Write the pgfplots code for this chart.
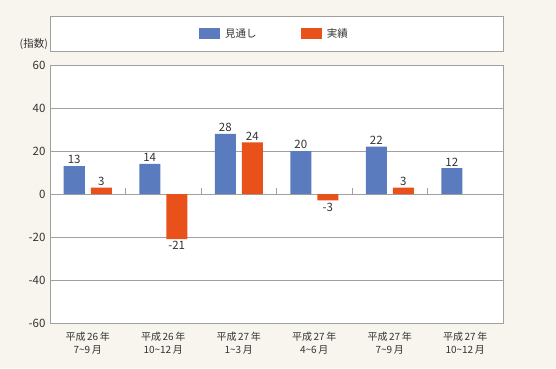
\documentclass[border=0pt]{standalone}
\usepackage{pgfplots}
\pgfplotsset{compat=1.18}
\usepackage{fontspec}
\setmainfont{Noto Sans CJK JP}
\definecolor{bg}{HTML}{F7F5EE}
\definecolor{blueb}{HTML}{5B7BBF}
\definecolor{orangeb}{HTML}{E8521A}
\definecolor{gridc}{HTML}{A0A0A0}
\definecolor{txt}{HTML}{333333}
\begin{document}
\begin{tikzpicture}[x=1pt,y=1pt]
\fill[bg] (0,0) rectangle (556,368);
\fill[white,draw=gridc,line width=0.8pt] (50,317) rectangle (503,352);
\node[anchor=east,font=\fontsize{10.5}{12}\selectfont,text=txt,inner sep=0pt] at (48,324) {(指数)};
\begin{axis}[
  at={(50pt,45pt)}, anchor=south west,
  scale only axis, width=453pt, height=258pt,
  xmin=-0.5, xmax=5.5, ymin=-60, ymax=60,
  ytick={-60,-40,...,60},
  yticklabels={-60,-40,-20,0,20,40,60},
  yticklabel style={font=\fontsize{11.5}{13}\selectfont,text=txt,xshift=-1pt},
  xtick={0,...,5},
  xticklabels={{平成\,26\,年\\7\textasciitilde9\,月},{平成\,26\,年\\10\textasciitilde12\,月},{平成\,27\,年\\1\textasciitilde3\,月},{平成\,27\,年\\4\textasciitilde6\,月},{平成\,27\,年\\7\textasciitilde9\,月},{平成\,27\,年\\10\textasciitilde12\,月}},
  xticklabel style={align=center,font=\fontsize{10}{12.5}\selectfont,text=txt,yshift=-6pt},
  major tick length=0pt,
  ymajorgrids, grid style={gridc, line width=0.8pt},
  axis line style={gridc, line width=0.8pt},
  axis background/.style={fill=white},
  ybar=6pt, bar width=21pt,
  nodes near coords={\pgfmathprintnumber[assume math mode=true]{\pgfplotspointmeta}},
  every node near coord/.append style={font=\fontsize{11.5}{13}\selectfont,text=txt,inner sep=2pt},
  legend style={draw=none, fill=none, at={(0.5,1)}, anchor=center, yshift=31.5pt, xshift=-2pt,
    legend columns=2, font=\fontsize{10.5}{12}\selectfont, text=txt,
    /tikz/every odd column/.append style={column sep=3pt},
    /tikz/every even column/.append style={column sep=42pt}},
  legend image code/.code={\fill[#1] (0pt,-5.5pt) rectangle (21pt,5.5pt);},
]
\addplot[fill=blueb, draw=none] coordinates {(0,13) (1,14) (2,28) (3,20) (4,22) (5,12)};
\addplot[fill=orangeb, draw=none] coordinates {(0,3) (1,-21) (2,24) (3,-3) (4,3)};
\legend{見通し,実績}
\pgfplotsinvokeforeach{0.5,1.5,2.5,3.5,4.5}{\draw[gridc,line width=0.8pt] (axis cs:#1,0) -- ++(0pt,6pt);}
\end{axis}
\end{tikzpicture}
\end{document}
